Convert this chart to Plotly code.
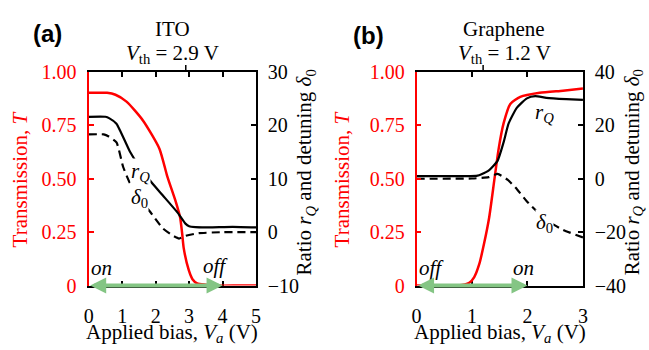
import plotly.graph_objects as go

# ---------------- data ----------------
# Panel (a): ITO
ito_T_x = [0, 0.55, 0.8, 1.13, 1.62, 2.11, 2.35, 2.6, 2.73, 2.79, 2.84, 2.99, 3.1, 3.24, 3.5, 3.77, 4.5, 5.0]
ito_T_y = [0.902, 0.902, 0.893, 0.861, 0.773, 0.642, 0.51, 0.393, 0.32, 0.247, 0.174, 0.072, 0.03, 0.01, 0.004, 0.0, 0.0, 0.0]
ito_rq_x = [0, 0.5, 0.62, 0.83, 1.23, 1.5, 1.81, 2.21, 2.65, 2.89, 3.0, 3.19, 3.6, 4.3, 5.0]
ito_rq_y = [21.6, 21.6, 21.3, 20.3, 15.1, 12.4, 9.8, 6.9, 3.7, 1.6, 1.1, 0.93, 0.9, 1.0, 0.9]
ito_d0_x = [0, 0.45, 0.6, 0.83, 1.03, 1.23, 1.5, 1.81, 2.21, 2.5, 2.7, 2.89, 3.28, 4.0, 5.0]
ito_d0_y = [18.3, 18.3, 17.9, 16.8, 12.2, 9.2, 6.5, 4.0, 0.75, -0.6, -1.2, -0.7, -0.2, 0.0, 0.0]
ito_vth = 2.9
ito_arrow = [0, 4]

# Panel (b): Graphene
gr_T_x = [0, 0.75, 0.95, 1.04, 1.13, 1.22, 1.31, 1.4, 1.48, 1.57, 1.69, 1.87, 2.22, 2.64, 3.0]
gr_T_y = [0.0, 0.0, 0.013, 0.04, 0.1, 0.2, 0.32, 0.49, 0.64, 0.76, 0.85, 0.883, 0.902, 0.912, 0.922]
gr_rq_x = [0, 0.9, 1.1, 1.16, 1.31, 1.46, 1.57, 1.66, 1.81, 1.99, 2.14, 2.34, 2.7, 3.0]
gr_rq_y = [1.0, 1.0, 1.2, 1.6, 3.2, 6.7, 13.7, 20.7, 26.6, 30.1, 30.9, 30.3, 29.8, 29.5]
gr_d0_x = [0, 1.0, 1.3, 1.46, 1.64, 1.81, 1.99, 2.34, 2.64, 3.0]
gr_d0_y = [0.0, 0.1, 0.6, 1.8, -0.35, -3.9, -8.5, -15.5, -19.1, -22.0]
gr_vth = 1.2
gr_arrow = [0, 2]

T_ticks = [0, 0.25, 0.5, 0.75, 1.0]
T_ticktext = ["0", "0.25", "0.50", "0.75", "1.00"]
ito_x_ticks = [0, 1, 2, 3, 4, 5]
gr_x_ticks = [0, 1, 2, 3]
ito_r_ticks = [-10, 0, 10, 20, 30]
gr_r_ticks = [-40, -20, 0, 20, 40]

# ---------------- style ----------------
SERIF = "Liberation Serif"
SANS = "Liberation Sans"
RED = "#ff0000"
GREEN = "#84c584"
W, H = 649, 350

def px_x(p):
    return p / W

def px_y(p):
    return 1 - p / H

Y_DOM = [px_y(293), px_y(65)]
X_DOM_A = [px_x(85), px_x(255)]
X_DOM_B = [px_x(418), px_x(587)]

fig = go.Figure()

def add_panel(fig, xa, ya_l, ya_r, Tx, Ty, rqx, rqy, dx, dy):
    fig.add_trace(go.Scatter(x=rqx, y=rqy, xaxis=xa, yaxis=ya_r, mode="lines",
                             line=dict(color="black", width=2.2, shape="spline", smoothing=0.5),
                             showlegend=False, hoverinfo="skip"))
    fig.add_trace(go.Scatter(x=dx, y=dy, xaxis=xa, yaxis=ya_r, mode="lines",
                             line=dict(color="black", width=2.2, dash="8px,5px", shape="spline", smoothing=0.5),
                             showlegend=False, hoverinfo="skip"))
    fig.add_trace(go.Scatter(x=Tx, y=Ty, xaxis=xa, yaxis=ya_l, mode="lines",
                             line=dict(color=RED, width=2.5, shape="spline", smoothing=0.6),
                             showlegend=False, hoverinfo="skip"))

add_panel(fig, "x", "y", "y2", ito_T_x, ito_T_y, ito_rq_x, ito_rq_y, ito_d0_x, ito_d0_y)
add_panel(fig, "x2", "y3", "y4", gr_T_x, gr_T_y, gr_rq_x, gr_rq_y, gr_d0_x, gr_d0_y)

tickfont = dict(family=SERIF, size=20, color="black")
redfont = dict(family=SERIF, size=20, color=RED)

def xaxis_cfg(dom, rng, ticks, anchor):
    return dict(domain=dom, range=rng, anchor=anchor, tickvals=ticks, ticks="inside", ticklen=5,
                tickwidth=1.5, tickcolor="black", showline=True, linecolor="black", linewidth=1.5,
                mirror="ticks", showgrid=False, zeroline=False, tickfont=tickfont,
                ticklabelstandoff=12, layer="below traces")

def yleft_cfg(anchor, lw):
    return dict(domain=Y_DOM, range=[0, 1], anchor=anchor, side="left", tickvals=T_ticks,
                ticktext=T_ticktext, ticks="inside", ticklen=5, tickwidth=1.5, tickcolor=RED,
                showline=True, linecolor=RED, linewidth=lw, showgrid=False, zeroline=False,
                tickfont=redfont, ticklabelstandoff=6)

def yright_cfg(anchor, overl, rng, ticks):
    return dict(overlaying=overl, range=rng, anchor=anchor, side="right", tickvals=ticks,
                ticks="inside", ticklen=5, tickwidth=1.5, tickcolor="black", showline=True,
                linecolor="black", linewidth=1.5, showgrid=False, zeroline=False,
                tickfont=tickfont, ticklabelstandoff=6)

fig.update_layout(
    xaxis=xaxis_cfg(X_DOM_A, [0, 5], ito_x_ticks, "y"),
    yaxis=yleft_cfg("x", 2.2),
    yaxis2=yright_cfg("x", "y", [-10, 30], ito_r_ticks),
    xaxis2=xaxis_cfg(X_DOM_B, [0, 3], gr_x_ticks, "y3"),
    yaxis3=yleft_cfg("x2", 1.5),
    yaxis4=yright_cfg("x2", "y3", [-40, 40], gr_r_ticks),
    width=W, height=H,
    margin=dict(l=0, r=0, t=0, b=0),
    paper_bgcolor="white", plot_bgcolor="white",
    font=dict(family=SERIF, size=21, color="black"),
)

# V_th tick marks above each panel (placed at the threshold voltage on the x scale)
for xr, yr, v in [("x", "y", ito_vth), ("x2", "y3", gr_vth)]:
    fig.add_shape(type="line", xref=xr, yref=f"{yr} domain", x0=v, x1=v, y0=1.0, y1=1.032,
                  line=dict(color="black", width=1.5), layer="above")

ann = []
def txt(text, x, y, xref="paper", yref="paper", size=21, color="black", angle=0, bg=None, family=SERIF):
    d = dict(text=text, x=x, y=y, xref=xref, yref=yref, showarrow=False, textangle=angle,
             font=dict(family=family, size=size, color=color), xanchor="center", yanchor="middle")
    if bg:
        d["bgcolor"] = bg
        d["borderpad"] = 0
    ann.append(d)

# Panel labels and titles
txt("<b>(a)</b>", px_x(43), px_y(24), size=24, family=SANS)
txt("<b>(b)</b>", px_x(369), px_y(26), size=24, family=SANS)
txt("ITO", px_x(170), px_y(19))
txt(f"<i>V</i><sub>th</sub> = {ito_vth} V", px_x(170), px_y(46))
txt("Graphene", px_x(507), px_y(19))
txt(f"<i>V</i><sub>th</sub> = {gr_vth} V", px_x(507), px_y(46))

# X titles
txt("Applied bias, <i>V</i><sub><i>a</i></sub> (V)", px_x(170), px_y(344))
txt("Applied bias, <i>V</i><sub><i>a</i></sub> (V)", px_x(503), px_y(344))

# Y titles
txt("Transmission, <i>T</i>", px_x(15), px_y(180), color=RED, angle=-90)
txt("Transmission, <i>T</i>", px_x(342), px_y(180), color=RED, angle=-90)
rt = "Ratio <i>r</i><sub><i>Q</i></sub> and detuning <i>δ</i><sub>0</sub>"
txt(rt, px_x(305), px_y(172), angle=-90)
txt(rt, px_x(638), px_y(172), angle=-90)

# in-plot labels
txt("<i>r</i><sub><i>Q</i></sub>", 1.56, 0.53, "x", "y", bg="white")
txt("<i>δ</i><sub>0</sub>", 1.53, 0.41, "x", "y", bg="white")
txt("<i>on</i>", 0.38, 0.083, "x", "y")
txt("<i>off</i>", 3.8, 0.092, "x", "y")
txt("<i>r</i><sub><i>Q</i></sub>", 2.31, 0.81, "x2", "y3")
txt("<i>δ</i><sub>0</sub>", 2.31, 0.294, "x2", "y3", bg="white")
txt("<i>off</i>", 0.27, 0.083, "x2", "y3")
txt("<i>on</i>", 1.92, 0.083, "x2", "y3")

# green double arrows (on/off bias range)
for xr, yr, rng in [("x", "y", ito_arrow), ("x2", "y3", gr_arrow)]:
    ann.append(dict(text="", x=rng[1], y=0, ax=rng[0], ay=0, xref=xr, yref=yr, axref=xr, ayref=yr,
                    showarrow=True, arrowside="end+start", arrowhead=2, startarrowhead=2,
                    arrowsize=0.8, startarrowsize=0.8, arrowwidth=4, arrowcolor=GREEN,
                    standoff=0, startstandoff=0))

fig.update_layout(annotations=ann)
fig.write_html("out.html")
